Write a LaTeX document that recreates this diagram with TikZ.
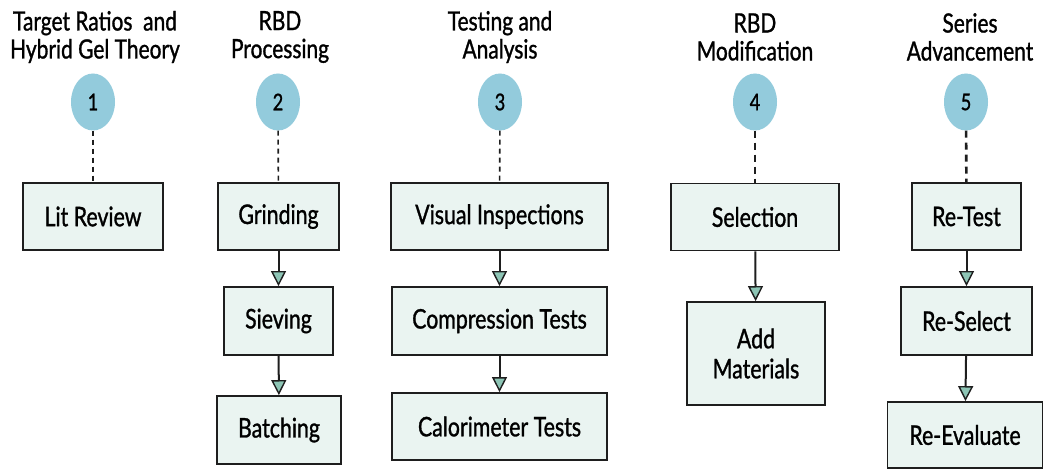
\documentclass[tikz,border=0pt]{standalone}
\usepackage{fontspec}
\setmainfont{Lato}[FakeStretch=0.79,FakeBold=1.1,AutoFakeBold=1.1]
\usetikzlibrary{arrows.meta,shapes.geometric}
\definecolor{bubble}{HTML}{93CBDC}
\definecolor{boxfill}{HTML}{EAF4F1}
\definecolor{edge}{HTML}{1E1E1E}
\definecolor{tipfill}{HTML}{8DC5B5}
\begin{document}
\begin{tikzpicture}[x=1pt,y=-1pt,
  num/.style={ellipse,fill=bubble,minimum width=44pt,minimum height=57pt,inner sep=0pt,font=\fontsize{23}{24}\selectfont\bfseries},
  head/.style={align=center,font=\fontsize{26.5}{28}\selectfont\bfseries},
  box/.style={draw=edge,fill=boxfill,line width=1.8pt,minimum height=67pt,inner sep=0pt,font=\fontsize{27}{30}\selectfont\bfseries},
  link/.style={draw=edge,line width=1.6pt,dash pattern=on 5pt off 4pt},
  thick link/.style={draw=edge,line width=2.6pt,dash pattern=on 7pt off 5pt},
  flow/.style={draw=edge,line width=2pt,-{Triangle[width=15pt,length=15pt,fill=tipfill,line width=1.4pt]}}]
\useasboundingbox (0,0) rectangle (1044,470);

\node[head] at (95,37)(h1) {Target Ratios \ and\\Hybrid Gel Theory};
\node[head] at (280,37)(h2) {RBD\\Processing};
\node[head] at (500,37)(h3) {Testing and\\Analysis};
\node[head] at (755,37)(h4) {RBD\\Modification};
\node[head] at (970,37)(h5) {Series\\Advancement};

\node[num] at (93,102)(n1) {1};
\node[num] at (278,102)(n2) {2};
\node[num] at (500,102)(n3) {3};
\node[num] at (755,102)(n4) {4};
\node[num] at (966,102)(n5) {5};

\node[box,minimum width=140pt] at (93,216.5)(lit) {Lit Review};

\node[box,minimum width=121pt] at (278.5,216.5)(grind) {Grinding};
\node[box,minimum width=109pt,minimum height=68pt] at (278.5,321)(sieve) {Sieving};
\node[box,minimum width=124pt,minimum height=68pt] at (279,430)(batch) {Batching};

\node[box,minimum width=217pt] at (499.5,216.5)(visual) {Visual Inspections};
\node[box,minimum width=215pt,minimum height=68pt] at (499.5,321)(compr) {Compression Tests};
\node[box,minimum width=215pt] at (499.5,426.5)(calor) {Calorimeter Tests};

\node[box,minimum width=168pt] at (755,217)(select) {Selection};
\node[box,minimum width=138pt,minimum height=103pt,align=center] at (756,353.5)(addmat) {Add\\Materials};

\node[box,minimum width=109pt] at (966.5,216.5)(retest) {Re-Test};
\node[box,minimum width=131pt,minimum height=68pt] at (966.5,321)(reselect) {Re-Select};
\node[box,minimum width=155pt,minimum height=66pt] at (965,435)(reeval) {Re-Evaluate};

\draw[link] (n1) -- (lit);
\draw[link] (n2) -- (grind);
\draw[link] (n3) -- (visual);
\draw[thick link] (n4) -- (select);
\draw[thick link] (n5) -- (retest);

\draw[flow] (grind) -- (sieve);
\draw[flow] (sieve) -- (batch);
\draw[flow] (visual) -- (compr);
\draw[flow] (compr) -- (calor);
\draw[flow] (select) -- (addmat);
\draw[flow] (retest) -- (reselect);
\draw[flow] (reselect) -- (reeval);
\end{tikzpicture}
\end{document}
